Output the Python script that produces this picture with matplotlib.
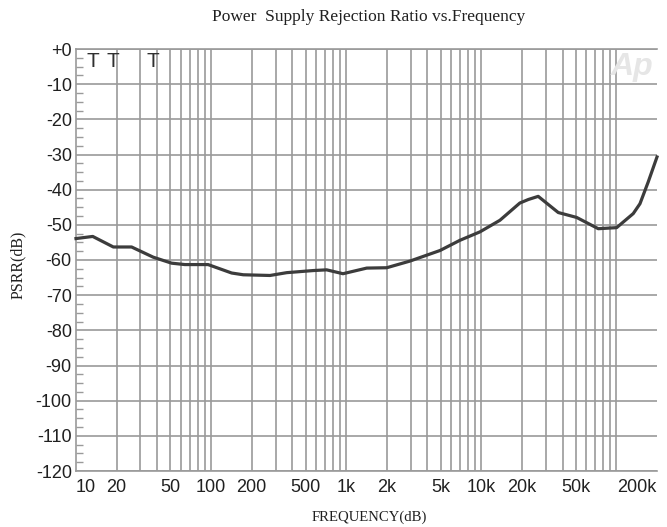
import matplotlib
matplotlib.use('Agg')
import matplotlib.pyplot as plt
from matplotlib.ticker import FixedLocator, MultipleLocator, NullFormatter

# PSRR curve
freq = [10, 13.3, 18.9, 25.8, 37.3, 51, 64, 95, 142, 173, 273, 363, 571, 717, 947,
        1420, 1995, 2970, 4950, 6950, 9780, 13750, 19300, 22300, 26400, 37150,
        50850, 73500, 100500, 133400, 149600, 172200, 200000]
psrr = [-53.9, -53.3, -56.3, -56.3, -59.2, -60.9, -61.3, -61.3, -63.7, -64.2, -64.4,
        -63.6, -63.0, -62.8, -63.9, -62.3, -62.2, -60.3, -57.3, -54.4, -52.0, -48.7,
        -43.8, -42.8, -41.9, -46.5, -47.9, -51.1, -50.8, -46.8, -44.0, -37.8, -30.7]

x_ticks = [10, 20, 50, 100, 200, 500, 1000, 2000, 5000, 10000, 20000, 50000, 200000]
x_labels = ['10', '20', '50', '100', '200', '500', '1k', '2k', '5k', '10k', '20k', '50k', '200k']
y_ticks = list(range(0, -121, -10))
y_labels = ['+0'] + [str(v) for v in y_ticks[1:]]

# vertical grid lines: 2..9 per decade plus the decade lines
x_grid = [n * 10 ** k for k in range(1, 5) for n in range(2, 11)]

GRID = '#9a9a9a'
CURVE = '#3c3c3c'
SANS = 'Liberation Sans'
SERIF = 'Liberation Serif'

fig = plt.figure(figsize=(6.67, 5.27), dpi=100)
ax = fig.add_axes([76 / 667, 1 - 471 / 527, 581 / 667, 422 / 527])

ax.plot(freq, psrr, color=CURVE, lw=2.3, solid_joinstyle='round', zorder=5, clip_on=False)

ax.set_xscale('log')
ax.set_xlim(10, 200000)
ax.set_ylim(-120, 0)

ax.xaxis.remove_overlapping_locs = False
ax.xaxis.set_major_locator(FixedLocator(x_ticks))
ax.set_xticklabels(x_labels)
ax.xaxis.set_minor_locator(FixedLocator(x_grid))
ax.xaxis.set_minor_formatter(NullFormatter())
ax.set_yticks(y_ticks)
ax.set_yticklabels(y_labels)
ax.yaxis.set_minor_locator(MultipleLocator(2.5))

ax.tick_params(axis='x', which='both', length=0, pad=6, labelsize=13, labelcolor='#202020')
ax.tick_params(axis='y', which='major', length=0, pad=3, labelsize=13, labelcolor='#202020')
ax.tick_params(axis='y', which='minor', direction='in', length=5, width=1, color=GRID)
for lab in ax.get_xticklabels() + ax.get_yticklabels():
    lab.set_fontfamily(SANS)
xl = ax.get_xticklabels()
xl[0].set_horizontalalignment('left')
xl[-1].set_horizontalalignment('right')

ax.grid(which='minor', axis='x', color=GRID, lw=1.2)
ax.grid(which='major', axis='y', color=GRID, lw=1.2)
ax.set_axisbelow(True)

ax.spines['right'].set_visible(False)
for s in ['left', 'top', 'bottom']:
    ax.spines[s].set_color(GRID)
    ax.spines[s].set_linewidth(1.2)

# odd marks at the top left and the Ap watermark
for xa in [0.029, 0.064, 0.133]:
    ax.text(xa, 0.993, 'T', transform=ax.transAxes, ha='center', va='top',
            fontsize=15, family=SANS, color='#303030')
ax.text(0.993, 0.993, 'Ap', transform=ax.transAxes, ha='right', va='top', fontsize=23,
        fontweight='bold', style='italic', family=SANS, color='#e6e6e6', zorder=1)

fig.text(369 / 667, 1 - 17 / 527, 'Power  Supply Rejection Ratio vs.Frequency',
         ha='center', va='center', fontsize=12.5, family=SERIF, color='#202020')
fig.text(369 / 667, 1 - 517 / 527, 'FREQUENCY(dB)', ha='center', va='center',
         fontsize=10.6, family=SERIF, color='#202020')
fig.text(18 / 667, 1 - 265 / 527, 'PSRR(dB)', ha='center', va='center', rotation=90,
         fontsize=11.5, family=SERIF, color='#202020')

fig.savefig('out.png', dpi=100)
